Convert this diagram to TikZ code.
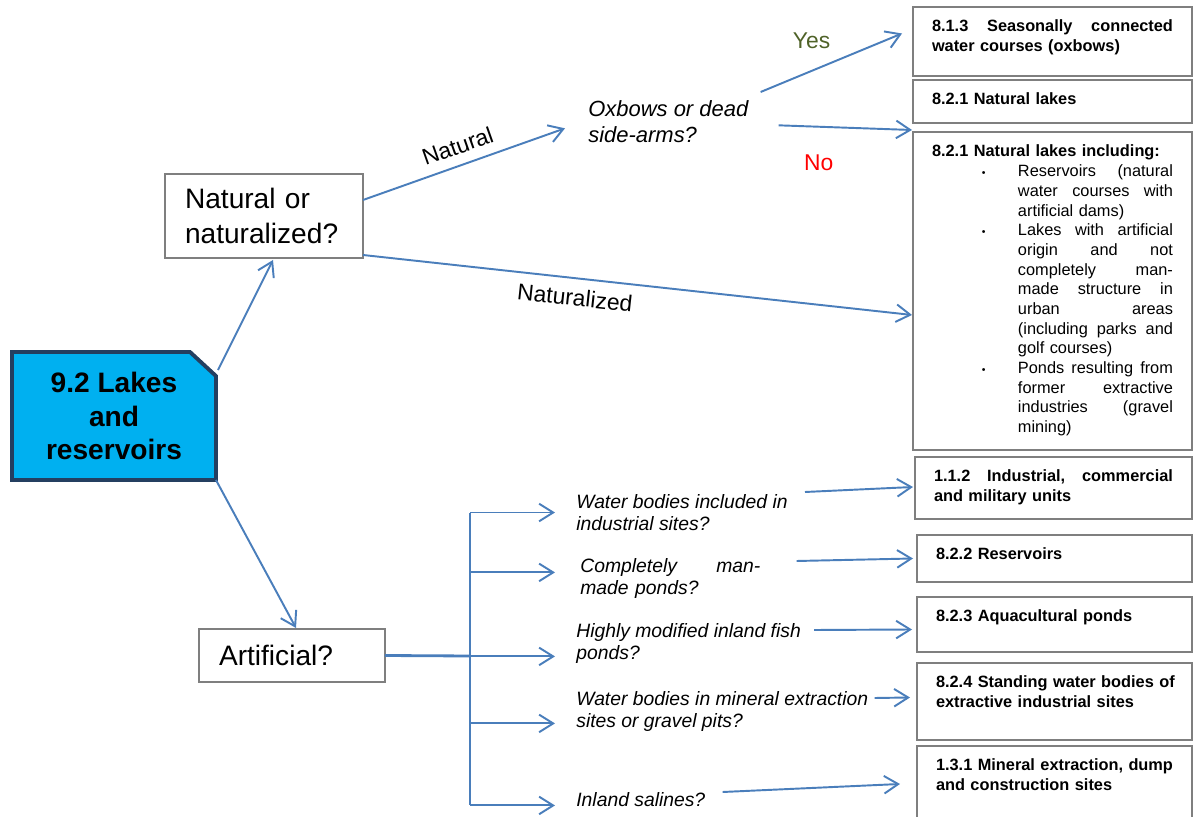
\documentclass[tikz,border=0pt]{standalone}
\usepackage{fontspec}
\setmainfont{Liberation Sans}
\usetikzlibrary{arrows.meta, positioning, backgrounds}
\definecolor{flowblue}{HTML}{4A7EBB}
\definecolor{boxgray}{HTML}{7F7F7F}
\definecolor{lakecyan}{HTML}{00B0F0}
\definecolor{lakeborder}{HTML}{243F60}
\definecolor{yesgreen}{HTML}{4F6228}
\definecolor{nored}{HTML}{FF0000}
\newcommand{\itm}[2]{\hspace*{1.0cm}\makebox[0.72cm][l]{#1}\makebox[3.1cm][l]{#2}}
\newcommand{\bulletdot}{{\fontsize{6}{6}\selectfont\textbullet}}

\begin{document}
\begin{tikzpicture}[x=0.02cm, y=-0.02cm, >={Straight Barb[length=8pt,width=10pt]},
    arr/.style={->, draw=flowblue, line width=1.1pt},
    qbox/.style={draw=boxgray, line width=1.1pt, inner xsep=0.4cm, inner ysep=0, outer sep=0,
      align=left, font=\fontsize{16}{20}\selectfont},
    leaf/.style={draw=boxgray, line width=1.1pt, anchor=north west, inner xsep=0.38cm, inner ysep=0,
      outer sep=0, text width=4.82cm, text height=0.5cm, align=left,
      font=\bfseries\fontsize{9.3}{11.2}\selectfont},
    ask/.style={anchor=north west, inner sep=0, align=left, font=\itshape\fontsize{11}{12.6}\selectfont},
    lbl/.style={inner sep=0, font=\fontsize{13}{15}\selectfont}]
  \useasboundingbox (0,0) rectangle (1194,817);
  \clip (0,0) rectangle (1194,817);

  % start node
  \node[minimum width=4.08cm, minimum height=2.56cm, outer sep=0, align=center,
    font=\bfseries\fontsize{16}{19}\selectfont] (lakes) at (114,416) {9.2 Lakes\\and\\reservoirs};
  \begin{scope}[on background layer]
    \filldraw[fill=lakecyan, draw=lakeborder, line width=2.2pt]
      (lakes.south west) -- (lakes.north west) -- ([shift={(-26,0)}]lakes.north east)
      -- ([shift={(0,24)}]lakes.north east) -- (lakes.south east) -- cycle;
  \end{scope}

  % questions
  \node[qbox, text width=3.16cm, minimum height=1.68cm] (natural) at (264,216) {Natural or\\naturalized?};
  \node[qbox, text width=2.92cm, minimum height=1.06cm] (artificial) at (292,655.5) {Artificial?};
  \node[ask, font=\itshape\fontsize{12.5}{14.7}\selectfont] (oxbow) at (588,100) {Oxbows or dead\\side-arms?};
  \node[ask] (q1) at (576,494) {Water bodies included in\\industrial sites?};
  \node[ask, text width=3.6cm] (q2) at (580,558) {\makebox[\linewidth][l]{Completely\hfill man-}\\made ponds?};
  \node[ask] (q3) at (576,623) {Highly modified inland fish\\ponds?};
  \node[ask] (q4) at (576,691) {Water bodies in mineral extraction\\sites or gravel pits?};
  \node[ask] (q5) at (576,792) {Inland salines?};

  % classes
  \node[leaf, text depth=0.88cm] (b813) at (913,7)
    {\makebox[\linewidth][l]{8.1.3\hfill Seasonally\hfill connected}\\water courses (oxbows)};
  \node[leaf, text depth=0.36cm] (b821) at (913,80) {8.2.1 Natural lakes};
  \node[leaf, text depth=5.86cm] (b821i) at (913,132) {8.2.1 Natural lakes including:\\
    \mdseries
    \itm{\bulletdot}{Reservoirs\hfill(natural}\\
    \itm{}{water\hfill courses\hfill with}\\
    \itm{}{artificial dams)}\\
    \itm{\bulletdot}{Lakes\hfill with\hfill artificial}\\
    \itm{}{origin\hfill and\hfill not}\\
    \itm{}{completely\hfill man-}\\
    \itm{}{made\hfill structure\hfill in}\\
    \itm{}{urban\hfill areas}\\
    \itm{}{(including\hfill parks\hfill and}\\
    \itm{}{golf courses)}\\
    \itm{\bulletdot}{Ponds\hfill resulting\hfill from}\\
    \itm{}{former\hfill extractive}\\
    \itm{}{industries\hfill (gravel}\\
    \itm{}{mining)}};
  \node[leaf, text width=4.78cm, text depth=0.74cm] (b112) at (915,457)
    {\makebox[\linewidth][l]{1.1.2\hfill Industrial,\hfill commercial}\\and military units};
  \node[leaf, text width=4.74cm, text depth=0.44cm] (b822) at (917,535) {8.2.2 Reservoirs};
  \node[leaf, text width=4.74cm, text depth=0.6cm] (b823) at (917,597) {8.2.3 Aquacultural ponds};
  \node[leaf, text width=4.74cm, text depth=1.04cm] (b824) at (917,663)
    {\mbox{8.2.4 Standing water bodies of}\\extractive industrial sites};
  \node[leaf, text width=4.74cm, text depth=1.5cm] (b131) at (917,746)
    {\mbox{1.3.1 Mineral extraction, dump}\\and construction sites};

  % connectors
  \draw[arr] ([shift={(2,18)}]lakes.north east) -- ([shift={(9,2)}]natural.south);
  \draw[arr] (lakes.south east) -- ([shift={(4,-1)}]artificial.north);
  \draw[arr] ([shift={(0,-16)}]natural.east) -- node[lbl, sloped, above=0.2cm] (lnat) {Natural}
    ([shift={(-23,7)}]oxbow.west);
  \draw[arr] ([shift={(0,-3)}]natural.south east) -- node[lbl, sloped, pos=0.39, below=0.2cm] (lnatd) {Naturalized}
    ([shift={(-1,24)}]b821i.west);
  \draw[arr] ([shift={(12,-8)}]oxbow.north east) -- node[lbl, text=yesgreen, pos=0.36, above=0.42cm] (lyes) {Yes}
    ([shift={(-11,-8)}]b813.west);
  \draw[arr] ([shift={(30,4)}]oxbow.east) -- node[lbl, text=nored, pos=0.3, below=0.55cm] (lno) {No}
    ([shift={(-1,-2)}]b821i.north west);

  \coordinate (fork) at (470,656);
  \draw[flowblue, line width=1.6pt] (artificial.east) -- (fork);
  \foreach \q/\dx/\dy in {q1/-21/0, q2/-25/-6, q3/-21/13, q4/-21/12, q5/-21/6} {
    \coordinate (e\q) at ([shift={(\dx,\dy)}]\q.west);
    \draw[arr] (fork |- e\q) -- (e\q);
  }
  \draw[flowblue, line width=1.1pt] (fork |- eq1) -- (fork |- eq5);

  \draw[arr] ([shift={(17,-2)}]q1.north east) -- ([shift={(-2,-1)}]b112.west);
  \draw[arr] ([shift={(36,3)}]q2.north east) -- ([shift={(-4,0)}]b822.west);
  \draw[arr] ([shift={(13,7)}]q3.north east) -- ([shift={(-5,5)}]b823.west);
  \draw[arr] ([shift={(6,7)}]q4.north east) -- ([shift={(-7,-4)}]b824.west);
  \draw[arr] ([shift={(17,0)}]q5.north east) -- ([shift={(-17,-12)}]b131.west);
\end{tikzpicture}
\end{document}
